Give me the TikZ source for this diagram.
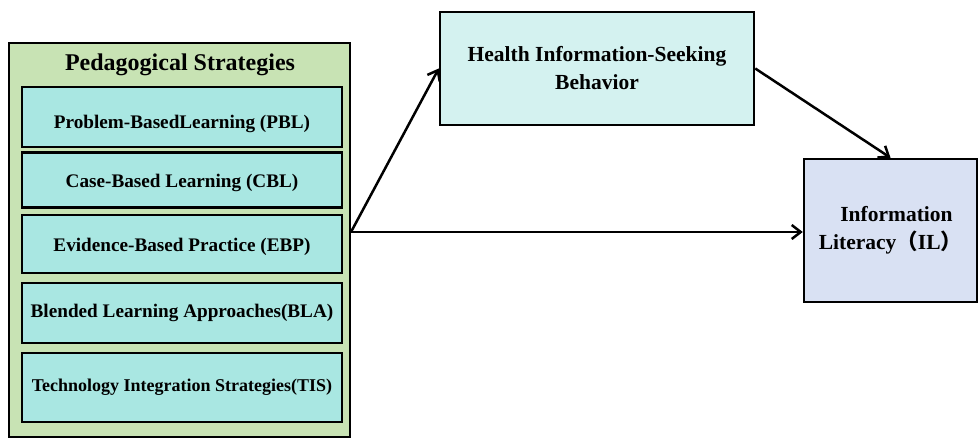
\documentclass[tikz,border=0pt]{standalone}
\usepackage{fontspec}
\setmainfont{Liberation Serif}
\newfontfamily\cjk{Noto Sans CJK SC}
\usetikzlibrary{arrows,arrows.meta}
\definecolor{groupgreen}{HTML}{C8E3B4}
\definecolor{strategycyan}{HTML}{A9E7E2}
\definecolor{seekcyan}{HTML}{D4F2F0}
\definecolor{literacyblue}{HTML}{D9E1F3}

\begin{document}
\begin{tikzpicture}[x=1pt,y=-1pt]
	 \tikzstyle{group}=[draw,line width=2.5pt,fill=groupgreen,inner sep=0pt]
	 \tikzstyle{strategy}=[draw,line width=2.8pt,fill=strategycyan,minimum width=320pt,inner sep=0pt,font=\bfseries\fontsize{19.2}{22}\selectfont]
	 \tikzstyle{outcome}=[draw,line width=2.5pt,inner sep=0pt,align=center,font=\bfseries\fontsize{21.5}{28}\selectfont]
	 \tikzstyle{path}=[draw,line width=2.5pt,-{Straight Barb[length=9pt,width=14pt]},black]

	 \useasboundingbox (0,0) rectangle (979,438);

	 \node[group,minimum width=341pt,minimum height=394pt] (ped) at (179.5,240) {};
	 \node[font=\bfseries\fontsize{24}{28}\selectfont] (pedtitle) at (180,65) {Pedagogical Strategies};

	 \node[strategy,minimum height=60pt,text height=27pt,text depth=4pt] (pbl) at (182,117) 	{Problem-BasedLearning (PBL)};
	 \node[strategy,minimum height=55pt,text height=19pt,text depth=4pt] (cbl) at (182,180) 	{Case-Based Learning (CBL)};
	 \node[strategy,minimum height=58pt,text height=19pt,text depth=4pt] (ebp) at (182,244) 	{Evidence-Based Practice (EBP)};
	 \node[strategy,minimum height=60pt] (bla) at (182,313) 	{Blended Learning Approaches(BLA)};
	 \node[strategy,minimum height=69pt,font=\bfseries\fontsize{18}{22}\selectfont] (tis) at (182,387.5) 	{Technology Integration Strategies(TIS)};

	 \node[outcome,fill=seekcyan,minimum width=314pt,minimum height=113pt] (hisb) at (597,68.5) {Health Information-Seeking\\Behavior};
	 \node[outcome,fill=literacyblue,minimum width=173pt,minimum height=143pt] (il) at (890.5,230.5) {\hspace{12pt}Information\\Literacy{\cjk （}IL{\cjk ）}};

	 \coordinate (src) at (351,232);
	 \draw[path] (src) -- (hisb.west);
	 \draw[path] (src) -- (il.west |- src);
	 \draw[path] (hisb.east) -- (il.north);
 \end{tikzpicture}
\end{document}
